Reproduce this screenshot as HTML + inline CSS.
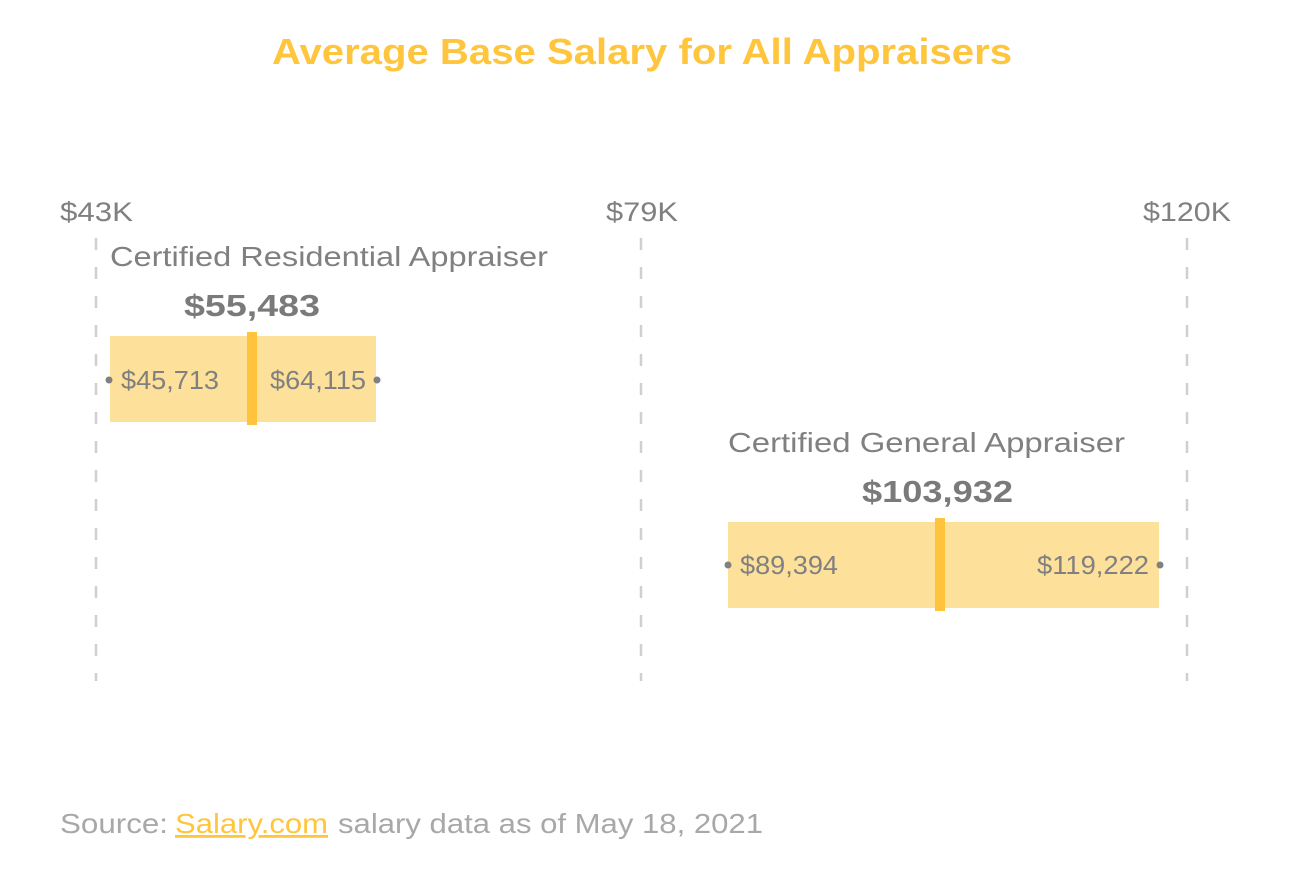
<!DOCTYPE html>
<html><head><style>
body{margin:0;background:#fff;}
svg{display:block;font-family:"Liberation Sans",sans-serif;}
</style></head><body>
<svg width="1294" height="884" viewBox="0 0 1294 884">
<text x="272" y="64" textLength="740" lengthAdjust="spacingAndGlyphs" font-size="36" font-weight="bold" fill="#FFC53D">Average Base Salary for All Appraisers</text>
<g stroke="#d0d0d0" stroke-width="2.5" stroke-dasharray="12,17">
<line x1="96" y1="238" x2="96" y2="681"/>
<line x1="641" y1="238" x2="641" y2="681"/>
<line x1="1187" y1="238" x2="1187" y2="681"/>
</g>
<g font-size="27" fill="#808080">
<text x="60" y="221" textLength="73" lengthAdjust="spacingAndGlyphs">$43K</text>
<text x="606" y="221" textLength="72" lengthAdjust="spacingAndGlyphs">$79K</text>
<text x="1143" y="221" textLength="88" lengthAdjust="spacingAndGlyphs">$120K</text>
</g>
<text x="110" y="266" textLength="438" lengthAdjust="spacingAndGlyphs" font-size="28" fill="#808080">Certified Residential Appraiser</text>
<text x="184" y="316" textLength="136" lengthAdjust="spacingAndGlyphs" font-size="31" font-weight="bold" fill="#7a7a7a">$55,483</text>
<rect x="110" y="336" width="266" height="86" fill="#FDE19A"/>
<rect x="247" y="332" width="10" height="93" fill="#FFC33C"/>
<circle cx="109" cy="380" r="3.5" fill="#808080"/>
<circle cx="377" cy="380" r="3.5" fill="#808080"/>
<text x="121" y="389" textLength="98" lengthAdjust="spacingAndGlyphs" font-size="26" fill="#808080">$45,713</text>
<text x="270" y="389" textLength="96" lengthAdjust="spacingAndGlyphs" font-size="26" fill="#808080">$64,115</text>
<text x="728" y="452" textLength="397" lengthAdjust="spacingAndGlyphs" font-size="28" fill="#808080">Certified General Appraiser</text>
<text x="862" y="502" textLength="151" lengthAdjust="spacingAndGlyphs" font-size="31" font-weight="bold" fill="#7a7a7a">$103,932</text>
<rect x="728" y="522" width="431" height="86" fill="#FDE19A"/>
<rect x="935" y="518" width="10" height="93" fill="#FFC33C"/>
<circle cx="728" cy="565" r="3.5" fill="#808080"/>
<circle cx="1160" cy="565" r="3.5" fill="#808080"/>
<text x="740" y="574" textLength="98" lengthAdjust="spacingAndGlyphs" font-size="26" fill="#808080">$89,394</text>
<text x="1037" y="574" textLength="112" lengthAdjust="spacingAndGlyphs" font-size="26" fill="#808080">$119,222</text>
<text x="60" y="833" textLength="108" lengthAdjust="spacingAndGlyphs" font-size="28" fill="#a8a8a8">Source:</text>
<text x="175" y="833" textLength="153" lengthAdjust="spacingAndGlyphs" font-size="28" fill="#FFC53D" text-decoration="underline">Salary.com</text>
<text x="338" y="833" textLength="425" lengthAdjust="spacingAndGlyphs" font-size="28" fill="#a8a8a8">salary data as of May 18, 2021</text>
</svg>
</body></html>
